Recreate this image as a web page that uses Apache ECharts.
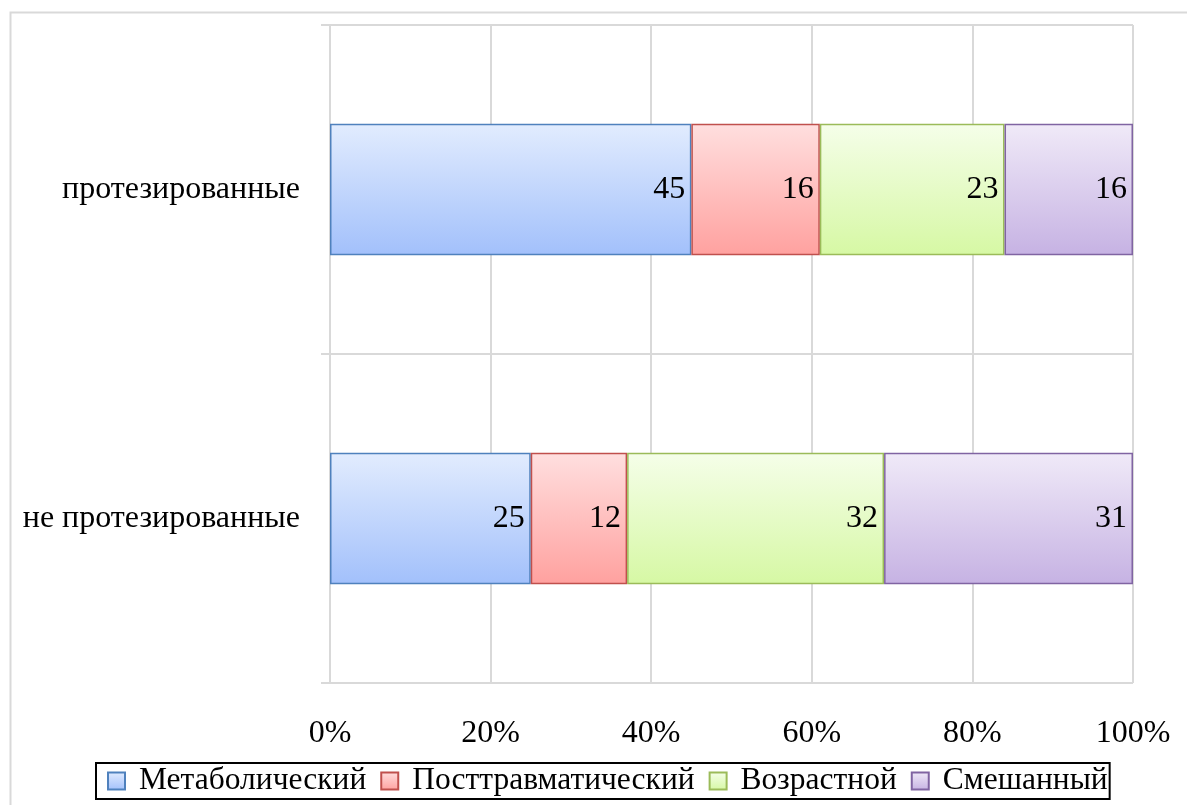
<!DOCTYPE html>
<html>
<head>
<meta charset="utf-8">
<script src="https://cdn.jsdelivr.net/npm/echarts@6/dist/echarts.min.js"></script>
<style>
  html, body { margin: 0; padding: 0; background: #fff; }
  #chart { width: 1187px; height: 805px; }
</style>
</head>
<body>
<div id="chart"></div>
<script>
// данные
const categories = ['не протезированные', 'протезированные']
const seriesNames = ['Метаболический', 'Посттравматический', 'Возрастной', 'Смешанный']
const metabolic = [25, 45]
const posttraumatic = [12, 16]
const agerelated = [32, 23]
const mixed = [31, 16]
const xTicks = [0, 20, 40, 60, 80, 100]

const seriesData = [metabolic, posttraumatic, agerelated, mixed]

// цвета: [верх градиента, низ градиента, рамка]
const palette = [
  ['#e2ecfe', '#a2c0fb', '#4f81bd'],
  ['#ffdfdf', '#ffa19f', '#c0504d'],
  ['#f5fee9', '#d6f8a4', '#9bbb59'],
  ['#f0eaf8', '#c6b2e3', '#8064a2']
]

const font = '"Liberation Serif", "Times New Roman", serif'
const fs = 32

const chart = echarts.init(document.getElementById('chart'), null, { renderer: 'canvas' })

const option = {
  animation: false,
  backgroundColor: '#fff',
  textStyle: { fontFamily: font },
  graphic: [{
    type: 'rect',
    shape: { x: 10.5, y: 12.5, width: 1300, height: 900 },
    style: { fill: 'none', stroke: '#d9d9d9', lineWidth: 2 },
    silent: true,
    z: -1
  }],
  grid: {
    left: 330,
    right: 54,
    top: 25,
    bottom: 122
  },
  legend: {
    bottom: 6,
    left: 96,
    padding: [2, 2, 2, 11],
    itemGap: 14,
    itemWidth: 17,
    itemHeight: 17,
    borderColor: '#000',
    borderWidth: 2,
    icon: 'rect',
    textStyle: { fontFamily: font, fontSize: 31.5, color: '#000', padding: [0, 0, 0, 9] },
    data: seriesNames
  },
  xAxis: {
    type: 'value',
    min: 0,
    max: 100,
    interval: 20,
    axisLine: { show: false },
    axisTick: { show: false },
    axisLabel: {
      margin: 35,
      fontSize: fs,
      color: '#000',
      fontFamily: font,
      formatter: v => xTicks.includes(v) ? v + '%' : ''
    },
    splitLine: { show: true, lineStyle: { color: '#d9d9d9', width: 2 } }
  },
  yAxis: {
    type: 'category',
    data: categories,
    axisLine: { show: true, lineStyle: { color: '#d9d9d9', width: 2 } },
    axisTick: { show: true, length: 9, lineStyle: { color: '#d9d9d9', width: 2 } },
    axisLabel: { margin: 30, fontSize: fs, color: '#000', fontFamily: font },
    splitLine: { show: true, lineStyle: { color: '#d9d9d9', width: 2 } }
  },
  series: seriesNames.map((name, i) => ({
    name: name,
    type: 'bar',
    stack: 'total',
    barWidth: '40%',
    data: seriesData[i],
    itemStyle: {
      color: new echarts.graphic.LinearGradient(0, 0, 0, 1, [
        { offset: 0, color: palette[i][0] },
        { offset: 1, color: palette[i][1] }
      ]),
      borderColor: palette[i][2],
      borderWidth: 1.5
    },
    label: {
      show: true,
      position: 'insideRight',
      distance: 6,
      fontSize: fs,
      color: '#000',
      fontFamily: font
    }
  }))
}

chart.setOption(option)
</script>
</body>
</html>
